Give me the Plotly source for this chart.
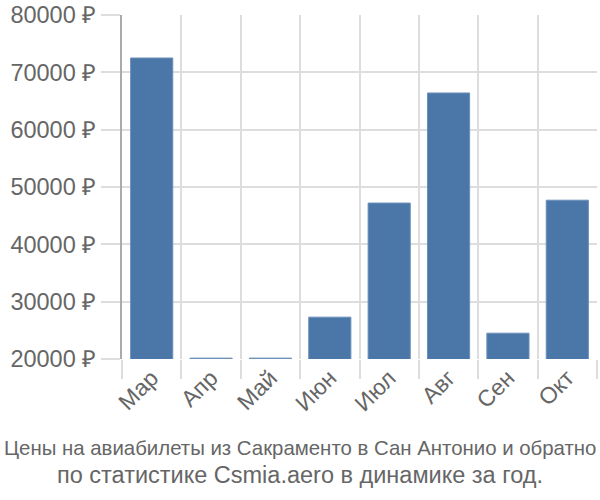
import plotly.graph_objects as go

months = ["Мар", "Апр", "Май", "Июн", "Июл", "Авг", "Сен", "Окт"]
prices = [72500, 20150, 20150, 27300, 47200, 66400, 24500, 47700]
y_ticks = [20000, 30000, 40000, 50000, 60000, 70000, 80000]
y_labels = [f"{v} ₽" for v in y_ticks]
title_line1 = "Цены на авиабилеты из Сакраменто в Сан Антонио и обратно"
title_line2 = "по статистике Csmia.aero в динамике за год."

H_TOP, H_BOT = 15, 359
def py(pix):
    return (H_BOT - pix) / (H_BOT - H_TOP)

FONT = "Liberation Sans, Arial, sans-serif"

fig = go.Figure(go.Bar(
    x=months, y=prices,
    marker=dict(color="#4a77a8", line=dict(color="#6a8fba", width=1)),
    width=0.71,
))

fig.update_layout(
    width=600, height=500,
    margin=dict(l=122, r=3, t=H_TOP, b=500 - H_BOT),
    plot_bgcolor="white", paper_bgcolor="white",
    showlegend=False,
    font=dict(family=FONT, color="#666666"),
    xaxis=dict(
        tickson="boundaries", showgrid=True, gridcolor="#dddddd", gridwidth=2,
        ticks="outside", ticklen=19, tickcolor="#dddddd", tickwidth=2,
        tickangle=-45, tickfont=dict(size=23, color="#666666", family=FONT),
        showline=False, zeroline=False,
    ),
    yaxis=dict(
        range=[20000, 80000], tickvals=y_ticks, ticktext=y_labels,
        showgrid=True, gridcolor="#dddddd", gridwidth=2,
        ticks="outside", ticklen=19, tickcolor="#dddddd", tickwidth=2,
        tickfont=dict(size=23.5, color="#666666", family=FONT),
        showline=True, linecolor="#aaaaaa", linewidth=2, zeroline=False,
    ),
    annotations=[
        dict(text=title_line1, x=0.5, xref="paper", xanchor="center",
             y=448, yref="paper", yanchor="middle", showarrow=False,
             font=dict(size=20.4, family=FONT, color="#666666")),
        dict(text=title_line2, x=0.5, xref="paper", xanchor="center",
             y=475, yref="paper", yanchor="middle", showarrow=False,
             font=dict(size=23.5, family=FONT, color="#666666")),
    ],
)
plot_w = 600 - 122 - 3
for a in fig.layout.annotations:
    a.y = py(a.y)
    a.x = (300 - 122) / plot_w

fig.write_html("out.html")
